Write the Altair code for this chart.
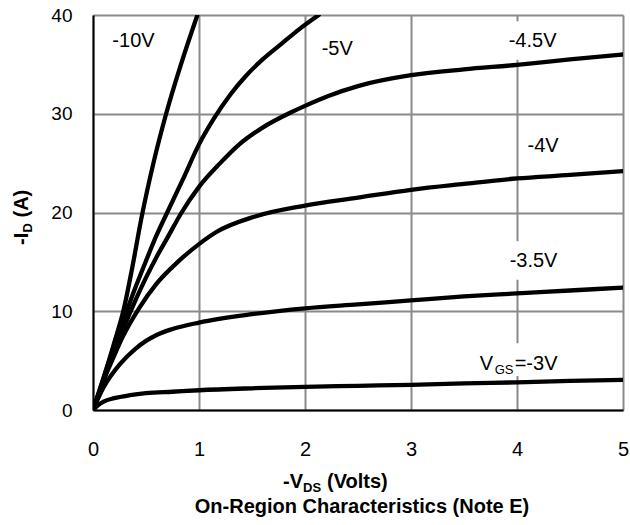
import altair as alt
import pandas as pd

# Output characteristics: -I_D vs -V_DS for each gate voltage
vgs_names = ["-10V", "-5V", "-4.5V", "-4V", "-3.5V", "-3V"]

vds_10 = [0, 0.05, 0.1, 0.2, 0.29, 0.37, 0.46, 0.57, 0.69, 0.83, 0.985]
id_10 = [0, 1.5, 3.2, 6.8, 10.2, 14.4, 19.6, 25.0, 30.0, 35.0, 40.0]

vds_5 = [0, 0.1, 0.2, 0.3, 0.4, 0.5, 0.6, 0.7, 0.85, 1.0, 1.14, 1.3, 1.44, 1.6, 1.78, 1.95, 2.13]
id_5 = [0, 3.3, 6.5, 9.5, 12.4, 15.1, 17.7, 20.0, 23.4, 26.9, 29.5, 32.0, 33.8, 35.5, 37.1, 38.6, 40.0]

vds_45 = [0, 0.1, 0.2, 0.3, 0.4, 0.5, 0.6, 0.7, 0.83, 1.0, 1.2, 1.38, 1.6, 1.86, 2.0, 2.22,
          2.5, 3.0, 3.5, 4.0, 4.5, 5.0]
id_45 = [0, 3.0, 5.9, 8.6, 11.1, 13.4, 15.5, 17.4, 19.9, 22.6, 25.0, 26.9, 28.6, 30.1, 30.8, 31.8,
         32.8, 33.9, 34.5, 34.95, 35.5, 36.0]

vds_4 = [0, 0.1, 0.2, 0.28, 0.44, 0.6, 0.8, 1.0, 1.16, 1.53, 2.0, 2.5, 3.0, 3.5, 4.0, 4.5, 5.0]
id_4 = [0, 3.0, 5.5, 7.4, 10.4, 12.8, 15.0, 16.8, 18.0, 19.6, 20.7, 21.5, 22.3, 22.9, 23.45, 23.8, 24.2]

vds_35 = [0, 0.1, 0.25, 0.4, 0.5, 0.6, 0.75, 1.0, 1.5, 2.0, 2.5, 3.0, 3.5, 4.0, 4.5, 5.0]
id_35 = [0, 2.3, 4.6, 6.2, 7.0, 7.6, 8.2, 8.85, 9.7, 10.3, 10.7, 11.1, 11.5, 11.8, 12.1, 12.4]

vds_3 = [0, 0.05, 0.1, 0.2, 0.35, 0.5, 0.75, 1.0, 1.5, 2.0, 2.5, 3.0, 3.5, 4.0, 4.5, 5.0]
id_3 = [0, 0.5, 0.85, 1.2, 1.5, 1.7, 1.85, 2.0, 2.2, 2.35, 2.45, 2.55, 2.7, 2.8, 2.95, 3.05]

series = [(vds_10, id_10), (vds_5, id_5), (vds_45, id_45), (vds_4, id_4), (vds_35, id_35), (vds_3, id_3)]

rows = []
for name, (xs, ys) in zip(vgs_names, series):
    for i, (x, y) in enumerate(zip(xs, ys)):
        rows.append({"vds": x, "id": y, "vgs": name, "order": i})
curves = pd.DataFrame(rows)

# Curve labels (centre x, baseline y in data units)
label_text = ["-10V", "-5V", "-4.5V", "-4V", "-3.5V"]
label_x = [0.382, 2.304, 4.147, 4.246, 4.156]
label_y = [36.76, 35.95, 36.76, 26.13, 14.48]
label_halfw = [0.26, 0.2, 0.27, 0.2, 0.27]

# V_GS=-3V label anchor (left x, baseline y)
vgs3_x = [3.648]
vgs3_y = [4.05]

FONT = "Liberation Sans"

labels = pd.DataFrame({"t": label_text, "x": label_x, "y": label_y})
boxes = pd.DataFrame({
    "x1": [x - w for x, w in zip(label_x, label_halfw)],
    "x2": [x + w for x, w in zip(label_x, label_halfw)],
    "y1": [y - 1.3 for y in label_y],
    "y2": [y + 2.6 for y in label_y],
})
boxes = pd.concat([boxes, pd.DataFrame({
    "x1": [vgs3_x[0] - 0.04], "x2": [vgs3_x[0] + 0.8],
    "y1": [vgs3_y[0] - 0.6], "y2": [vgs3_y[0] + 2.7]})], ignore_index=True)
vgs3 = pd.DataFrame({"x": vgs3_x, "y": vgs3_y})

xscale = alt.Scale(domain=[0, 5], nice=False, zero=False)
yscale = alt.Scale(domain=[0, 40], nice=False, zero=False)

x_axis = alt.Axis(values=[0, 1, 2, 3, 4, 5], format="d", title=None, grid=True,
                  gridColor="#8a8a8a", gridWidth=2, ticks=False, tickSize=0,
                  labelPadding=29, labelFontSize=20, labelFont=FONT, labelColor="black",
                  labelFlush=False, domainColor="black", domainWidth=2)
y_axis = alt.Axis(values=[0, 10, 20, 30, 40], format="d", title=None, grid=True,
                  gridColor="#8a8a8a", gridWidth=2, ticks=False, tickSize=0,
                  labelPadding=21, labelFontSize=19, labelFont=FONT, labelColor="black",
                  labelFlush=False, domainColor="black", domainWidth=2)

bg = alt.Chart(boxes).mark_rect(color="white").encode(
    x=alt.X("x1:Q", scale=xscale, axis=x_axis), x2="x2:Q",
    y=alt.Y("y1:Q", scale=yscale, axis=y_axis), y2="y2:Q",
)

lines = alt.Chart(curves).mark_line(
    color="black", strokeWidth=4.3, strokeCap="round", strokeJoin="round",
    interpolate="monotone", clip=True
).encode(
    x=alt.X("vds:Q", scale=xscale),
    y=alt.Y("id:Q", scale=yscale),
    detail="vgs:N",
    order="order:Q",
)

curve_labels = alt.Chart(labels).mark_text(
    font=FONT, fontSize=20, color="black", align="center", baseline="alphabetic"
).encode(x=alt.X("x:Q", scale=xscale), y=alt.Y("y:Q", scale=yscale), text="t:N")


def vgs_part(text, dx, dy, size):
    return alt.Chart(vgs3).mark_text(
        text=text, font=FONT, fontSize=size, color="black", align="left",
        baseline="alphabetic", dx=dx, dy=dy
    ).encode(x=alt.X("x:Q", scale=xscale), y=alt.Y("y:Q", scale=yscale))


vgs_label = vgs_part("V", 0, 0, 20) + vgs_part("GS", 15, 4, 13) + vgs_part("=-3V", 35, 0, 20)


def title_part(text, x, y, size, align="left", angle=0):
    return alt.Chart(vgs3).mark_text(
        text=text, font=FONT, fontSize=size, fontWeight="bold", color="black",
        align=align, baseline="alphabetic", angle=angle
    ).encode(x=alt.value(x), y=alt.value(y))


x_title = (title_part("-V", 190, 473, 20) + title_part("DS", 210, 477, 13)
           + title_part("(Volts)", 234, 473, 20))
caption = title_part("On-Region Characteristics (Note E)", 269, 498, 20, align="center")
y_title = (title_part("-I", -65, 230, 20, angle=270) + title_part("D", -61, 217.6, 13, angle=270)
           + title_part("(A)", -65, 202.5, 20, angle=270))

chart = alt.layer(bg, lines, curve_labels, vgs_label, x_title, caption, y_title).properties(
    width=530, height=395,
    padding={"left": 93, "top": 15, "right": 7, "bottom": 115},
    autosize=alt.AutoSizeParams(type="none"),
).configure_view(stroke="black", strokeWidth=2).configure(background="white")

chart.save("out.html", embed_options={"renderer": "svg", "actions": False})
